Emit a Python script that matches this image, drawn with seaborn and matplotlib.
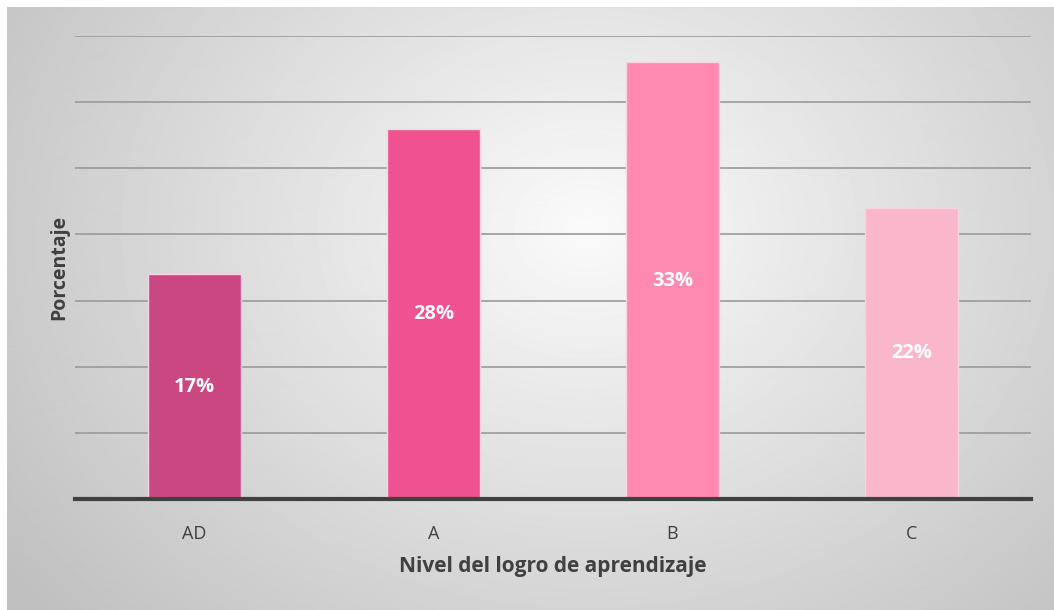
import numpy as np
import pandas as pd
import matplotlib
matplotlib.use("Agg")
import matplotlib.pyplot as plt
import seaborn as sns

categories = ["AD", "A", "B", "C"]
values = [17, 28, 33, 22]
labels = ["17%", "28%", "33%", "22%"]
colors = ["#CB4781", "#F05190", "#FF89B1", "#FAB7CB"]

sns.set_theme(style="white")
plt.rcParams["font.family"] = ["Open Sans", "DejaVu Sans"]

W, H = 1054, 610
fig = plt.figure(figsize=(W / 100, H / 100), dpi=100)
fig.patch.set_facecolor("white")

# gradient background panel
bg = fig.add_axes([7 / W, 0, 1 - 7 / W, 1 - 7 / H], zorder=0)
yy, xx = np.mgrid[0:600, 0:1047]
cx, cy = 580, 220
d = np.sqrt(((xx - cx) / 640.0) ** 2 + ((yy - cy) / 520.0) ** 2)
g = np.clip(250 - 52 * d, 192, 250) / 255.0
bg.imshow(g, cmap="gray", vmin=0, vmax=1, aspect="auto", interpolation="bilinear")
bg.axis("off")

ax = fig.add_axes([75 / W, (H - 499) / H, (1031 - 75) / W, (499 - 36) / H], zorder=1)
ax.patch.set_alpha(0)

df = pd.DataFrame({"cat": categories, "val": values})
sns.barplot(data=df, x="cat", y="val", hue="cat", palette=colors, legend=False,
            saturation=1, width=0.39, ax=ax, edgecolor="#f4d6e2", linewidth=1.0, zorder=2)

ax.set_ylim(0, 35)
ax.set_yticks(np.arange(5, 36, 5))
ax.yaxis.grid(True, color="#9a9a9a", linewidth=1.2, zorder=1)
ax.set_axisbelow(True)
ax.tick_params(axis="y", left=False, labelleft=False)
ax.tick_params(axis="x", bottom=False, labelsize=13, labelcolor="#404040", pad=13)
for s in ["top", "right", "left"]:
    ax.spines[s].set_visible(False)
ax.spines["bottom"].set_color("#404040")
ax.spines["bottom"].set_linewidth(3)

for i, bar in enumerate(ax.patches):
    x = bar.get_x() + bar.get_width() / 2
    h = bar.get_height()
    ax.text(x, h / 2, labels[i], ha="center", va="center", color="white",
            fontsize=14.5, fontweight="bold", zorder=3)

ax.set_xlabel("Nivel del logro de aprendizaje", fontsize=15, fontweight="bold",
              color="#404040", labelpad=9)
ax.set_ylabel("Porcentaje", fontsize=14, fontweight="bold", color="#404040", labelpad=4)

fig.savefig("out.png", dpi=100)
